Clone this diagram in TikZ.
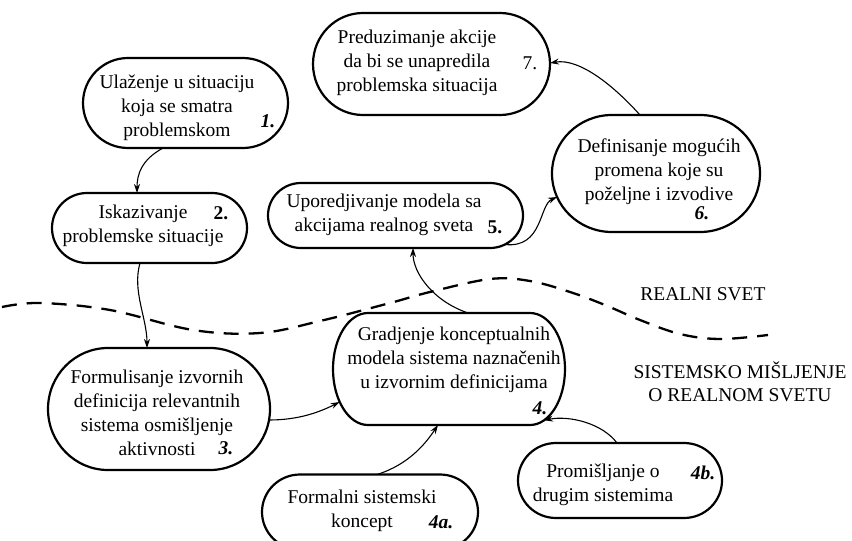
\documentclass[tikz,border=0pt]{standalone}
\usepackage{fontspec}
\setmainfont{Liberation Serif}
\usetikzlibrary{arrows.meta,calc}
\tikzset{
  frame/.style={draw=none,inner sep=0pt,outer sep=0pt},
  boxline/.style={draw=black,line width=2.2pt},
  txt/.style={inner sep=0pt,align=center,font=\fontsize{19.5}{24}\selectfont},
  num/.style={inner sep=0pt,font=\fontsize{19.5}{24}\selectfont\bfseries\itshape},
  numup/.style={inner sep=0pt,font=\fontsize{19.5}{24}\selectfont\bfseries},
  numreg/.style={inner sep=0pt,font=\fontsize{19.5}{24}\selectfont},
  conn/.style={draw=black,line width=1.1pt,-{Stealth[length=9pt,width=6pt]}},
  lab/.style={inner sep=0pt,align=center,font=\fontsize{19.5}{23}\selectfont},
}
% oval box: name, cx, cy, w, h, rx
\newcommand{\ovalbox}[6]{%
  \node[frame,minimum width=#4pt,minimum height=#5pt] (#1) at (#2,#3) {};
  \draw[boxline] ([xshift=#6pt]#1.north west) -- ([xshift=-#6pt]#1.north east)
    arc[start angle=90,end angle=-90,x radius=#6pt,y radius=#5pt/2]
    -- ([xshift=#6pt]#1.south west)
    arc[start angle=270,end angle=90,x radius=#6pt,y radius=#5pt/2] -- cycle;
}
\begin{document}
\begin{tikzpicture}[x=1pt,y=-1pt]
\useasboundingbox (0,0) rectangle (852,541);
\begin{scope}
\clip (0,0) rectangle (852,541);
% boxes
\ovalbox{b1}{185.5}{103}{205}{90}{45}
\ovalbox{b2}{149.5}{228}{195}{70}{35}
\ovalbox{b3}{159}{409}{222}{122}{60}
\ovalbox{b4}{449}{369}{232}{112}{35}
\ovalbox{b4a}{370}{512}{216}{75}{38}
\ovalbox{b4b}{620}{480.5}{204}{75}{38}
\ovalbox{b5}{395.5}{215.5}{255}{65}{33}
\ovalbox{b6}{656}{173.5}{208}{117}{60}
\ovalbox{b7}{431.5}{64}{237}{102}{50}
\end{scope}
% texts
\node[txt] (t1) at (177,108) {Ulaženje u situaciju\\koja se smatra\\problemskom};
\node[num] (n1) at (268,121) {1.};
\node[txt] (t2) at (143,226) {Iskazivanje\\problemske situacije};
\node[numup] (n2) at (221,213) {2.};
\node[txt] (t3) at (157,413) {Formulisanje izvornih\\definicija relevantnih\\sistema osmišljenje\\aktivnosti};
\node[num] (n3) at (226,448) {3.};
\node[txt] (t4) at (454,360) {Gradjenje konceptualnih\\modela sistema naznačenih\\u izvornim definicijama};
\node[num] (n4) at (540,408) {4.};
\node[txt] (t4a) at (362,511) {Formalni sistemski\\koncept};
\node[num] (n4a) at (441,522) {4a.};
\node[txt] (t4b) at (603,485) {Promišljanje o\\drugim sistemima};
\node[num] (n4b) at (703,473) {4b.};
\node[txt] (t5) at (384,215) {Uporedjivanje modela sa\\akcijama realnog sveta};
\node[numup] (n5) at (495,227) {5.};
\node[txt] (t6) at (659,172) {Definisanje mogućih\\promena koje su\\poželjne i izvodive};
\node[num] (n6) at (702,213) {6.};
\node[txt] (t7) at (417,63) {Preduzimanje akcije\\da bi se unapredila\\problemska situacija};
\node[numreg] (n7) at (530,63) {7.};
% labels
\node[lab] (realni) at (703,294) {REALNI SVET};
\node[lab] (sist) at (740,382) {SISTEMSKO MIŠLJENJE\\O REALNOM SVETU};
% dashed boundary
\draw[line width=2.3pt,dash pattern=on 15pt off 10pt] plot[smooth,tension=0.6] coordinates
  {(2,307) (40,303) (110,310) (193,330) (260,333) (320,321) (390,303) (430,292) (490,279) (530,281) (570,292) (605,305) (640,320) (680,334) (720,339) (768,335)};
% connectors
\draw[conn] ([xshift=-22.5pt]b1.south) .. controls +(-22,12) and +(0,-18) .. ([xshift=-12.5pt]b2.north);
\draw[conn] ([xshift=-9.5pt]b2.south) .. controls +(-8,28) and +(0,-30) .. ([xshift=-12pt]b3.north);
\draw[conn] ([xshift=-1pt,yshift=-11pt]b3.east) .. controls +(30,0) and +(-20,10) .. ([xshift=6.7pt,yshift=-33pt]b4.west);
\draw[conn] ([xshift=19pt]b4.north) .. controls +(-35,-12) and +(0,25) .. ([xshift=17.5pt]b5.south);
\draw[conn] ([xshift=109.5pt,yshift=3.5pt]b5.south) .. controls +(38,4) and +(-18,8) .. ([xshift=5pt,yshift=-23.5pt]b6.west);
\draw[conn] ([xshift=-16pt]b6.north) .. controls +(-25,-28) and +(30,-5) .. ([yshift=1pt]b7.east);
\draw[conn] ([xshift=7pt]b4a.north) .. controls +(32,-10) and +(-12,18) .. ([xshift=-11pt]b4.south);
\draw[conn] ([xshift=-3pt]b4b.north) .. controls +(-15,-20) and +(25,-5) .. ([xshift=95pt,yshift=4.7pt]b4.south);
\end{tikzpicture}
\end{document}
